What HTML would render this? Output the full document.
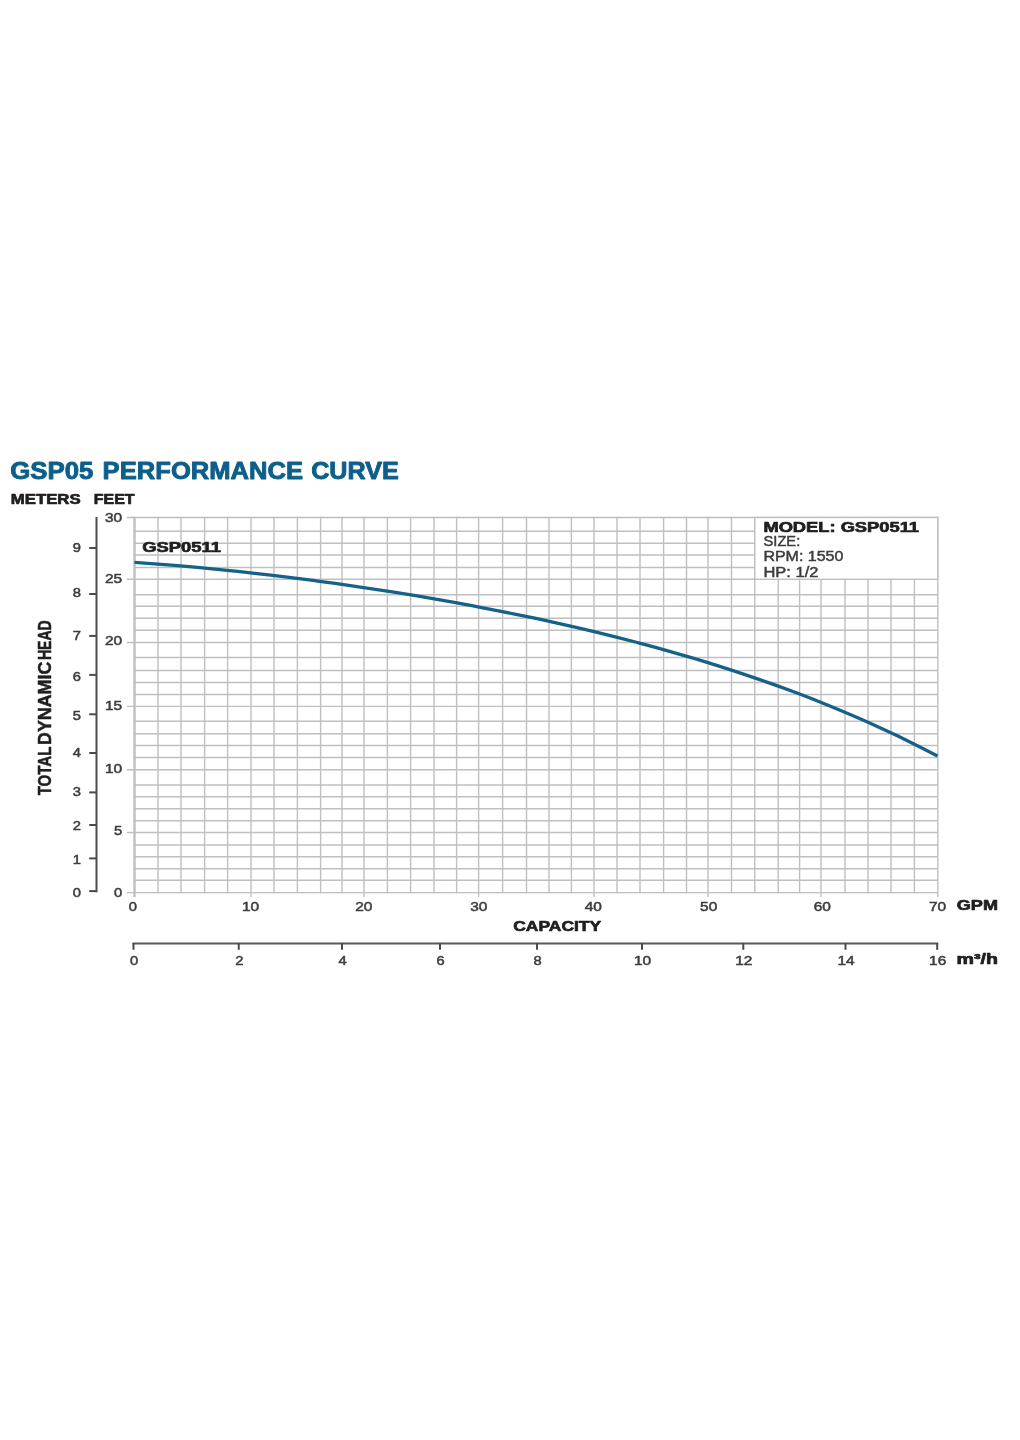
<!DOCTYPE html>
<html lang="en"><head><meta charset="utf-8"><title>GSP05 Performance Curve</title>
<style>html,body{margin:0;padding:0;background:#fff}body{width:1020px;height:1440px;overflow:hidden}svg{display:block;filter:blur(0.55px)}text{font-family:"Liberation Sans",sans-serif}.b{font-weight:700}</style>
</head><body>
<svg width="1020" height="1440" viewBox="0 0 1020 1440">
<rect width="1020" height="1440" fill="#fff"/>
<g stroke="#bfbfbf" stroke-width="1.4" fill="none">
<line x1="126.8" y1="517.5" x2="938.2" y2="517.5"/>
<line x1="134.5" y1="531.3" x2="938.2" y2="531.3"/>
<line x1="134.5" y1="543.3" x2="938.2" y2="543.3"/>
<line x1="134.5" y1="555" x2="938.2" y2="555"/>
<line x1="134.5" y1="567.5" x2="938.2" y2="567.5"/>
<line x1="126.8" y1="579.3" x2="938.2" y2="579.3"/>
<line x1="134.5" y1="594.7" x2="938.2" y2="594.7"/>
<line x1="134.5" y1="606.3" x2="938.2" y2="606.3"/>
<line x1="134.5" y1="618.3" x2="938.2" y2="618.3"/>
<line x1="134.5" y1="630.3" x2="938.2" y2="630.3"/>
<line x1="126.8" y1="642.5" x2="938.2" y2="642.5"/>
<line x1="134.5" y1="657.5" x2="938.2" y2="657.5"/>
<line x1="134.5" y1="670.5" x2="938.2" y2="670.5"/>
<line x1="134.5" y1="682.5" x2="938.2" y2="682.5"/>
<line x1="134.5" y1="694.5" x2="938.2" y2="694.5"/>
<line x1="126.8" y1="706.4" x2="938.2" y2="706.4"/>
<line x1="134.5" y1="721.3" x2="938.2" y2="721.3"/>
<line x1="134.5" y1="733.7" x2="938.2" y2="733.7"/>
<line x1="134.5" y1="745.5" x2="938.2" y2="745.5"/>
<line x1="134.5" y1="757.5" x2="938.2" y2="757.5"/>
<line x1="126.8" y1="769.7" x2="938.2" y2="769.7"/>
<line x1="134.5" y1="785" x2="938.2" y2="785"/>
<line x1="134.5" y1="796.7" x2="938.2" y2="796.7"/>
<line x1="134.5" y1="808.7" x2="938.2" y2="808.7"/>
<line x1="134.5" y1="820.8" x2="938.2" y2="820.8"/>
<line x1="126.8" y1="832.5" x2="938.2" y2="832.5"/>
<line x1="134.5" y1="845" x2="938.2" y2="845"/>
<line x1="134.5" y1="856.7" x2="938.2" y2="856.7"/>
<line x1="134.5" y1="868.7" x2="938.2" y2="868.7"/>
<line x1="134.5" y1="880.3" x2="938.2" y2="880.3"/>
<line x1="126.8" y1="892.6" x2="938.2" y2="892.6"/>
<line x1="158.00" y1="516.8" x2="158.00" y2="893.3"/>
<line x1="181.00" y1="516.8" x2="181.00" y2="893.3"/>
<line x1="204.60" y1="516.8" x2="204.60" y2="893.3"/>
<line x1="227.60" y1="516.8" x2="227.60" y2="893.3"/>
<line x1="251.00" y1="516.8" x2="251.00" y2="897"/>
<line x1="274.00" y1="516.8" x2="274.00" y2="893.3"/>
<line x1="297.40" y1="516.8" x2="297.40" y2="893.3"/>
<line x1="320.60" y1="516.8" x2="320.60" y2="893.3"/>
<line x1="342.00" y1="516.8" x2="342.00" y2="893.3"/>
<line x1="364.00" y1="516.8" x2="364.00" y2="897"/>
<line x1="387.40" y1="516.8" x2="387.40" y2="893.3"/>
<line x1="410.60" y1="516.8" x2="410.60" y2="893.3"/>
<line x1="434.00" y1="516.8" x2="434.00" y2="893.3"/>
<line x1="456.60" y1="516.8" x2="456.60" y2="893.3"/>
<line x1="478.60" y1="516.8" x2="478.60" y2="897"/>
<line x1="502.60" y1="516.8" x2="502.60" y2="893.3"/>
<line x1="526.50" y1="516.8" x2="526.50" y2="893.3"/>
<line x1="549.00" y1="516.8" x2="549.00" y2="893.3"/>
<line x1="571.40" y1="516.8" x2="571.40" y2="893.3"/>
<line x1="594.00" y1="516.8" x2="594.00" y2="897"/>
<line x1="617.00" y1="516.8" x2="617.00" y2="893.3"/>
<line x1="640.00" y1="516.8" x2="640.00" y2="893.3"/>
<line x1="663.60" y1="516.8" x2="663.60" y2="893.3"/>
<line x1="686.50" y1="516.8" x2="686.50" y2="893.3"/>
<line x1="708.00" y1="516.8" x2="708.00" y2="897"/>
<line x1="731.50" y1="516.8" x2="731.50" y2="893.3"/>
<line x1="754.80" y1="516.8" x2="754.80" y2="893.3"/>
<line x1="778.20" y1="516.8" x2="778.20" y2="893.3"/>
<line x1="799.60" y1="516.8" x2="799.60" y2="893.3"/>
<line x1="821.00" y1="516.8" x2="821.00" y2="897"/>
<line x1="845.00" y1="516.8" x2="845.00" y2="893.3"/>
<line x1="868.00" y1="516.8" x2="868.00" y2="893.3"/>
<line x1="891.00" y1="516.8" x2="891.00" y2="893.3"/>
<line x1="914.40" y1="516.8" x2="914.40" y2="893.3"/>
<line x1="937.80" y1="516.8" x2="937.80" y2="897"/>
</g>
<line x1="134.5" y1="516.8" x2="134.5" y2="897" stroke="#bfbfbf" stroke-width="2.4"/>
<rect x="754.8" y="517.5" width="183" height="61.8" fill="#fff" stroke="#bfbfbf" stroke-width="1.4"/>
<path d="M134.5,562.38 C141.2,562.82 147.9,563.30 154.6,563.80 C161.3,564.30 168.0,564.84 174.7,565.39 C181.3,565.95 188.0,566.53 194.7,567.14 C201.4,567.75 208.1,568.39 214.8,569.05 C221.5,569.71 228.2,570.39 234.9,571.10 C241.6,571.81 248.3,572.54 254.9,573.29 C261.6,574.05 268.3,574.82 275.0,575.62 C281.7,576.42 288.4,577.25 295.1,578.09 C301.8,578.94 308.5,579.81 315.2,580.70 C321.9,581.59 328.6,582.50 335.2,583.43 C341.9,584.37 348.6,585.33 355.3,586.30 C362.0,587.28 368.7,588.28 375.4,589.31 C382.1,590.33 388.8,591.38 395.5,592.45 C402.2,593.52 408.9,594.61 415.6,595.72 C422.2,596.84 428.9,597.98 435.6,599.14 C442.3,600.30 449.0,601.49 455.7,602.70 C462.4,603.91 469.1,605.14 475.8,606.41 C482.5,607.67 489.2,608.95 495.8,610.27 C502.5,611.58 509.2,612.92 515.9,614.29 C522.6,615.66 529.3,617.06 536.0,618.48 C542.7,619.91 549.4,621.36 556.1,622.85 C562.8,624.34 569.5,625.85 576.1,627.40 C582.8,628.95 589.5,630.53 596.2,632.15 C602.9,633.77 609.6,635.41 616.3,637.10 C623.0,638.79 629.7,640.51 636.4,642.27 C643.1,644.03 649.8,645.83 656.4,647.67 C663.1,649.50 669.8,651.38 676.5,653.30 C683.2,655.23 689.9,657.19 696.6,659.20 C703.3,661.21 710.0,663.26 716.7,665.36 C723.4,667.47 730.1,669.62 736.8,671.82 C743.4,674.01 750.1,676.26 756.8,678.57 C763.5,680.87 770.2,683.23 776.9,685.64 C783.6,688.05 790.3,690.52 797.0,693.05 C803.7,695.58 810.4,698.17 817.0,700.82 C823.7,703.47 830.4,706.18 837.1,708.96 C843.8,711.74 850.5,714.59 857.2,717.50 C863.9,720.42 870.6,723.40 877.3,726.46 C884.0,729.52 890.7,732.65 897.4,735.86 C904.0,739.07 910.7,742.36 917.4,745.73 C924.1,749.09 930.8,752.54 937.5,756.08" fill="none" stroke="#166187" stroke-width="3.3" stroke-linejoin="round"/>
<g stroke="#4a4a4a" stroke-width="2" fill="none">
<line x1="96.5" y1="517" x2="96.5" y2="892.2"/>
<line x1="89.2" y1="548" x2="96.5" y2="548"/>
<line x1="89.2" y1="594" x2="96.5" y2="594"/>
<line x1="89.2" y1="635.9" x2="96.5" y2="635.9"/>
<line x1="89.2" y1="674.9" x2="96.5" y2="674.9"/>
<line x1="89.2" y1="714.3" x2="96.5" y2="714.3"/>
<line x1="89.2" y1="753" x2="96.5" y2="753"/>
<line x1="89.2" y1="792.4" x2="96.5" y2="792.4"/>
<line x1="89.2" y1="825" x2="96.5" y2="825"/>
<line x1="89.2" y1="858.4" x2="96.5" y2="858.4"/>
<line x1="89.2" y1="891.1" x2="96.5" y2="891.1"/>
<line x1="132.5" y1="943.5" x2="938.2" y2="943.5" stroke="#585858" stroke-width="2.2"/>
<line x1="133.5" y1="943" x2="133.5" y2="949.8"/>
<line x1="238.75" y1="943" x2="238.75" y2="949.8"/>
<line x1="342" y1="943" x2="342" y2="949.8"/>
<line x1="440" y1="943" x2="440" y2="949.8"/>
<line x1="537" y1="943" x2="537" y2="949.8"/>
<line x1="642" y1="943" x2="642" y2="949.8"/>
<line x1="743.3" y1="943" x2="743.3" y2="949.8"/>
<line x1="845.5" y1="943" x2="845.5" y2="949.8"/>
<line x1="937.2" y1="943" x2="937.2" y2="949.8"/>
</g>
<text x="76.8" y="552.0" font-size="13" fill="#3c3c3c" stroke="#3c3c3c" stroke-width="0.5" text-anchor="middle" textLength="8.2" lengthAdjust="spacingAndGlyphs">9</text>
<text x="76.8" y="597.1" font-size="13" fill="#3c3c3c" stroke="#3c3c3c" stroke-width="0.5" text-anchor="middle" textLength="8.2" lengthAdjust="spacingAndGlyphs">8</text>
<text x="76.8" y="639.9" font-size="13" fill="#3c3c3c" stroke="#3c3c3c" stroke-width="0.5" text-anchor="middle" textLength="8.2" lengthAdjust="spacingAndGlyphs">7</text>
<text x="76.8" y="681.3" font-size="13" fill="#3c3c3c" stroke="#3c3c3c" stroke-width="0.5" text-anchor="middle" textLength="8.2" lengthAdjust="spacingAndGlyphs">6</text>
<text x="76.8" y="719.9" font-size="13" fill="#3c3c3c" stroke="#3c3c3c" stroke-width="0.5" text-anchor="middle" textLength="8.2" lengthAdjust="spacingAndGlyphs">5</text>
<text x="76.8" y="756.8" font-size="13" fill="#3c3c3c" stroke="#3c3c3c" stroke-width="0.5" text-anchor="middle" textLength="8.2" lengthAdjust="spacingAndGlyphs">4</text>
<text x="76.8" y="795.7" font-size="13" fill="#3c3c3c" stroke="#3c3c3c" stroke-width="0.5" text-anchor="middle" textLength="8.2" lengthAdjust="spacingAndGlyphs">3</text>
<text x="76.8" y="829.7" font-size="13" fill="#3c3c3c" stroke="#3c3c3c" stroke-width="0.5" text-anchor="middle" textLength="8.2" lengthAdjust="spacingAndGlyphs">2</text>
<text x="76.8" y="863.8" font-size="13" fill="#3c3c3c" stroke="#3c3c3c" stroke-width="0.5" text-anchor="middle" textLength="8.2" lengthAdjust="spacingAndGlyphs">1</text>
<text x="76.8" y="897.4" font-size="13" fill="#3c3c3c" stroke="#3c3c3c" stroke-width="0.5" text-anchor="middle" textLength="8.2" lengthAdjust="spacingAndGlyphs">0</text>
<text x="122.2" y="521.7" font-size="13" fill="#3c3c3c" stroke="#3c3c3c" stroke-width="0.5" text-anchor="end" textLength="17.2" lengthAdjust="spacingAndGlyphs">30</text>
<text x="122.2" y="582.8" font-size="13" fill="#3c3c3c" stroke="#3c3c3c" stroke-width="0.5" text-anchor="end" textLength="17.2" lengthAdjust="spacingAndGlyphs">25</text>
<text x="122.2" y="644.6" font-size="13" fill="#3c3c3c" stroke="#3c3c3c" stroke-width="0.5" text-anchor="end" textLength="17.2" lengthAdjust="spacingAndGlyphs">20</text>
<text x="122.2" y="710.2" font-size="13" fill="#3c3c3c" stroke="#3c3c3c" stroke-width="0.5" text-anchor="end" textLength="17.2" lengthAdjust="spacingAndGlyphs">15</text>
<text x="122.2" y="772.8" font-size="13" fill="#3c3c3c" stroke="#3c3c3c" stroke-width="0.5" text-anchor="end" textLength="17.2" lengthAdjust="spacingAndGlyphs">10</text>
<text x="122.2" y="835.4" font-size="13" fill="#3c3c3c" stroke="#3c3c3c" stroke-width="0.5" text-anchor="end" textLength="8.2" lengthAdjust="spacingAndGlyphs">5</text>
<text x="122.2" y="897.4" font-size="13" fill="#3c3c3c" stroke="#3c3c3c" stroke-width="0.5" text-anchor="end" textLength="8.2" lengthAdjust="spacingAndGlyphs">0</text>
<text x="132.8" y="911.3" font-size="13" fill="#3c3c3c" stroke="#3c3c3c" stroke-width="0.5" text-anchor="middle" textLength="8.2" lengthAdjust="spacingAndGlyphs">0</text>
<text x="250.5" y="911.3" font-size="13" fill="#3c3c3c" stroke="#3c3c3c" stroke-width="0.5" text-anchor="middle" textLength="17.2" lengthAdjust="spacingAndGlyphs">10</text>
<text x="363.75" y="911.3" font-size="13" fill="#3c3c3c" stroke="#3c3c3c" stroke-width="0.5" text-anchor="middle" textLength="17.2" lengthAdjust="spacingAndGlyphs">20</text>
<text x="478.75" y="911.3" font-size="13" fill="#3c3c3c" stroke="#3c3c3c" stroke-width="0.5" text-anchor="middle" textLength="17.2" lengthAdjust="spacingAndGlyphs">30</text>
<text x="593.3" y="911.3" font-size="13" fill="#3c3c3c" stroke="#3c3c3c" stroke-width="0.5" text-anchor="middle" textLength="17.2" lengthAdjust="spacingAndGlyphs">40</text>
<text x="708.7" y="911.3" font-size="13" fill="#3c3c3c" stroke="#3c3c3c" stroke-width="0.5" text-anchor="middle" textLength="17.2" lengthAdjust="spacingAndGlyphs">50</text>
<text x="822.3" y="911.3" font-size="13" fill="#3c3c3c" stroke="#3c3c3c" stroke-width="0.5" text-anchor="middle" textLength="17.2" lengthAdjust="spacingAndGlyphs">60</text>
<text x="937.5" y="910.5" font-size="13" fill="#3c3c3c" stroke="#3c3c3c" stroke-width="0.5" text-anchor="middle" textLength="17.2" lengthAdjust="spacingAndGlyphs">70</text>
<text x="134.0" y="965" font-size="13" fill="#3c3c3c" stroke="#3c3c3c" stroke-width="0.5" text-anchor="middle" textLength="8.2" lengthAdjust="spacingAndGlyphs">0</text>
<text x="239.25" y="965" font-size="13" fill="#3c3c3c" stroke="#3c3c3c" stroke-width="0.5" text-anchor="middle" textLength="8.2" lengthAdjust="spacingAndGlyphs">2</text>
<text x="342.5" y="965" font-size="13" fill="#3c3c3c" stroke="#3c3c3c" stroke-width="0.5" text-anchor="middle" textLength="8.2" lengthAdjust="spacingAndGlyphs">4</text>
<text x="440.5" y="965" font-size="13" fill="#3c3c3c" stroke="#3c3c3c" stroke-width="0.5" text-anchor="middle" textLength="8.2" lengthAdjust="spacingAndGlyphs">6</text>
<text x="537.5" y="965" font-size="13" fill="#3c3c3c" stroke="#3c3c3c" stroke-width="0.5" text-anchor="middle" textLength="8.2" lengthAdjust="spacingAndGlyphs">8</text>
<text x="642.5" y="965" font-size="13" fill="#3c3c3c" stroke="#3c3c3c" stroke-width="0.5" text-anchor="middle" textLength="17.2" lengthAdjust="spacingAndGlyphs">10</text>
<text x="743.8" y="965" font-size="13" fill="#3c3c3c" stroke="#3c3c3c" stroke-width="0.5" text-anchor="middle" textLength="17.2" lengthAdjust="spacingAndGlyphs">12</text>
<text x="846.0" y="965" font-size="13" fill="#3c3c3c" stroke="#3c3c3c" stroke-width="0.5" text-anchor="middle" textLength="17.2" lengthAdjust="spacingAndGlyphs">14</text>
<text x="937.7" y="965" font-size="13" fill="#3c3c3c" stroke="#3c3c3c" stroke-width="0.5" text-anchor="middle" textLength="17.2" lengthAdjust="spacingAndGlyphs">16</text>
<text class="b" y="479.2" font-size="24.4" fill="#0d5f8a" stroke="#0d5f8a" stroke-width="0.9" stroke-linejoin="round"><tspan x="10.2" textLength="83.2" lengthAdjust="spacingAndGlyphs">GSP05</tspan> <tspan x="102.6" textLength="200.6" lengthAdjust="spacingAndGlyphs">PERFORMANCE</tspan> <tspan x="311.2" textLength="87.6" lengthAdjust="spacingAndGlyphs">CURVE</tspan></text>
<text class="b" x="10.8" y="503.7" font-size="14" fill="#1f1f1f" stroke="#1f1f1f" stroke-width="0.7" stroke-linejoin="round" textLength="69.8" lengthAdjust="spacingAndGlyphs">METERS</text>
<text class="b" x="93.8" y="503.7" font-size="14" fill="#1f1f1f" stroke="#1f1f1f" stroke-width="0.7" stroke-linejoin="round" textLength="40.8" lengthAdjust="spacingAndGlyphs">FEET</text>
<text class="b" x="142.3" y="552.2" font-size="14.3" fill="#1f1f1f" stroke="#1f1f1f" stroke-width="0.7" stroke-linejoin="round" textLength="78.6" lengthAdjust="spacingAndGlyphs">GSP0511</text>
<text class="b" x="513.2" y="930.8" font-size="14.7" fill="#1f1f1f" stroke="#1f1f1f" stroke-width="0.7" stroke-linejoin="round" textLength="88" lengthAdjust="spacingAndGlyphs">CAPACITY</text>
<text class="b" x="956.8" y="909.9" font-size="15" fill="#1f1f1f" stroke="#1f1f1f" stroke-width="0.7" stroke-linejoin="round" textLength="41.2" lengthAdjust="spacingAndGlyphs">GPM</text>
<text class="b" x="956.6" y="963.5" font-size="14.3" fill="#1f1f1f" stroke="#1f1f1f" stroke-width="0.7" stroke-linejoin="round" textLength="41.4" lengthAdjust="spacingAndGlyphs">m³/h</text>
<text class="b" x="763.4" y="531.8" font-size="14.7" fill="#1f1f1f" stroke="#1f1f1f" stroke-width="0.7" stroke-linejoin="round" textLength="155.6" lengthAdjust="spacingAndGlyphs">MODEL: GSP0511</text>
<text x="763.6" y="545.6" font-size="13.8" fill="#3c3c3c" stroke="#3c3c3c" stroke-width="0.45" textLength="36.6" lengthAdjust="spacingAndGlyphs">SIZE:</text>
<text x="763.4" y="561.3" font-size="13.8" fill="#3c3c3c" stroke="#3c3c3c" stroke-width="0.45" textLength="80" lengthAdjust="spacingAndGlyphs">RPM: 1550</text>
<text x="763.4" y="576.5" font-size="13.8" fill="#3c3c3c" stroke="#3c3c3c" stroke-width="0.45" textLength="55" lengthAdjust="spacingAndGlyphs">HP: 1/2</text>
<text class="b" transform="translate(50.9 794.7) rotate(-90)" font-size="18.7" fill="#1f1f1f" stroke="#1f1f1f" stroke-width="0.5"><tspan x="-0.6" textLength="48.4" lengthAdjust="spacingAndGlyphs">TOTAL</tspan> <tspan x="49.8" textLength="83.2" lengthAdjust="spacingAndGlyphs">DYNAMIC</tspan> <tspan x="134.6" textLength="39.8" lengthAdjust="spacingAndGlyphs">HEAD</tspan></text>
</svg></body></html>
